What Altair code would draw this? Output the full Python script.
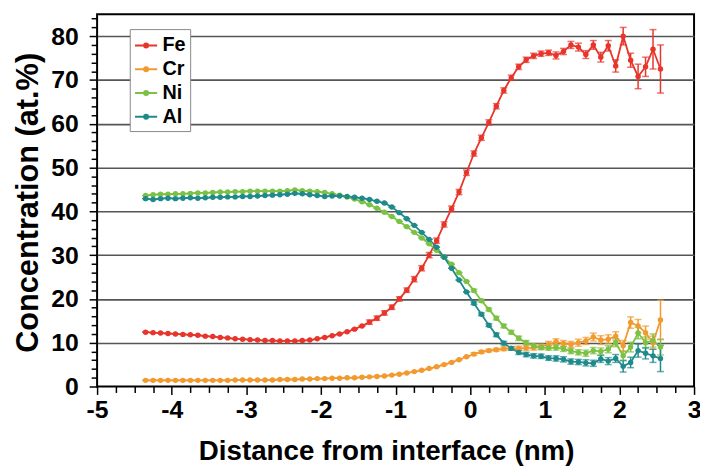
import altair as alt
import pandas as pd

# ---- data ----
series = ["Fe", "Cr", "Ni", "Al"]
colors = ["#e8352b", "#f29a2e", "#7bc143", "#1e8a8c"]

x_nm = [-4.35, -4.25, -4.15, -4.05, -3.95, -3.85, -3.75, -3.65, -3.55, -3.45,
        -3.35, -3.25, -3.15, -3.05, -2.95, -2.85, -2.75, -2.65, -2.55, -2.45,
        -2.35, -2.25, -2.15, -2.05, -1.95, -1.85, -1.75, -1.65, -1.55, -1.45,
        -1.35, -1.25, -1.15, -1.05, -0.95, -0.85, -0.75, -0.65, -0.55, -0.45,
        -0.35, -0.25, -0.15, -0.05, 0.05, 0.15, 0.25, 0.35, 0.45, 0.55,
        0.65, 0.75, 0.85, 0.95, 1.05, 1.15, 1.25, 1.35, 1.45, 1.55,
        1.65, 1.75, 1.85, 1.95, 2.05, 2.15, 2.25, 2.35, 2.45, 2.55]

fe = [12.4, 12.3, 12.2, 12.1, 12.0, 11.9, 11.8, 11.7, 11.5, 11.4,
      11.2, 11.1, 10.9, 10.8, 10.7, 10.6, 10.5, 10.5, 10.4, 10.4,
      10.4, 10.5, 10.6, 10.9, 11.2, 11.6, 12.0, 12.5, 13.1, 13.8,
      14.7, 15.6, 16.8, 18.1, 20.0, 22.0, 24.5, 27.0, 30.0, 33.3,
      37.0, 40.6, 44.4, 48.8, 53.2, 56.8, 60.3, 64.0, 67.6, 70.5,
      73.0, 74.6, 75.5, 76.0, 76.2, 75.6, 76.5, 78.0, 77.5, 75.8,
      78.0, 75.2, 77.8, 73.2, 80.0, 74.5, 70.8, 73.0, 77.0, 72.5]
fe_err = [0, 0, 0, 0, 0, 0, 0, 0, 0, 0,
          0, 0, 0, 0, 0, 0, 0, 0, 0, 0,
          0, 0, 0, 0, 0, 0, 0, 0, 0, 0,
          0.5, 0.5, 0.5, 0.5, 0.5, 0.5, 0.6, 0.6, 0.6, 0.6,
          0.6, 0.6, 0.6, 0.6, 0.6, 0.6, 0.6, 0.6, 0.6, 0.6,
          0.6, 0.6, 0.6, 0.6, 0.6, 0.8, 0.7, 0.8, 0.9, 0.9,
          1.0, 1.1, 1.2, 1.4, 2.0, 1.6, 2.8, 2.2, 4.5, 5.5]

cr = [1.4, 1.4, 1.4, 1.4, 1.4, 1.4, 1.4, 1.4, 1.4, 1.4,
      1.4, 1.4, 1.5, 1.5, 1.5, 1.5, 1.5, 1.5, 1.6, 1.6,
      1.6, 1.7, 1.7, 1.8, 1.8, 1.9, 1.9, 2.0, 2.0, 2.1,
      2.2, 2.3, 2.4, 2.6, 2.8, 3.1, 3.4, 3.7, 4.1, 4.5,
      5.0, 5.5, 6.1, 6.8, 7.4, 7.9, 8.2, 8.4, 8.6, 8.7,
      8.7, 8.8, 8.9, 9.1, 9.6, 10.2, 9.8, 9.6, 10.0, 10.4,
      11.3, 10.6, 10.8, 11.5, 9.3, 14.6, 13.8, 12.3, 10.0, 15.2]
cr_err = [0, 0, 0, 0, 0, 0, 0, 0, 0, 0,
          0, 0, 0, 0, 0, 0, 0, 0, 0, 0,
          0, 0, 0, 0, 0, 0, 0, 0, 0, 0,
          0, 0, 0, 0, 0, 0, 0, 0, 0, 0,
          0, 0, 0, 0, 0.3, 0.3, 0.3, 0.3, 0.4, 0.4,
          0.5, 0.5, 0.6, 0.6, 0.7, 0.7, 0.7, 0.7, 0.8, 0.8,
          0.9, 1.0, 1.0, 1.0, 1.2, 1.3, 1.5, 1.5, 1.5, 4.5]

ni = [43.6, 43.8, 43.9, 43.9, 44.0, 44.0, 44.1, 44.2, 44.2, 44.3,
      44.4, 44.4, 44.5, 44.5, 44.6, 44.6, 44.6, 44.6, 44.6, 44.7,
      44.9, 44.7, 44.6, 44.5, 44.3, 44.0, 43.7, 43.3, 42.8, 42.2,
      41.5, 40.7, 39.8, 38.8, 37.7, 36.5, 35.2, 33.9, 32.6, 31.1,
      29.6, 27.9, 26.0, 24.0, 21.9, 19.6, 17.6, 15.6, 13.8, 12.4,
      11.0, 10.0, 9.3, 8.9, 8.8, 8.9, 8.6, 8.1, 7.8, 7.6,
      8.2, 8.0, 8.5, 10.0, 7.0, 9.0, 12.2, 10.0, 10.5, 9.0]
ni_err = [0, 0, 0, 0, 0, 0, 0, 0, 0, 0,
          0, 0, 0, 0, 0, 0, 0, 0, 0, 0,
          0, 0, 0, 0, 0, 0, 0, 0, 0, 0,
          0, 0, 0, 0, 0, 0, 0, 0, 0, 0,
          0, 0, 0, 0, 0.3, 0.3, 0.3, 0.4, 0.4, 0.4,
          0.5, 0.5, 0.5, 0.5, 0.5, 0.6, 0.6, 0.6, 0.6, 0.7,
          0.7, 0.8, 0.8, 0.9, 1.0, 1.1, 1.3, 1.3, 1.5, 1.8]

al = [42.9, 42.7, 42.9, 43.0, 42.9, 43.0, 43.1, 43.0, 43.1, 43.2,
      43.2, 43.3, 43.3, 43.4, 43.4, 43.5, 43.6, 43.7, 43.8, 43.9,
      44.1, 44.0, 43.8, 43.6, 43.4, 43.5, 43.5, 43.4, 43.2, 43.0,
      42.7, 42.3, 41.9, 41.0, 39.7, 38.3, 36.8, 35.2, 33.6, 31.8,
      29.5, 27.0, 24.3, 21.6, 19.0, 16.5, 14.0, 11.8, 9.9, 8.7,
      7.8, 7.3, 7.0, 6.9, 6.5, 6.4, 6.2, 5.7, 5.6, 5.4,
      5.3, 6.3, 5.8, 6.4, 4.6, 5.5, 8.2, 7.6, 7.0, 6.4]
al_err = [0, 0, 0, 0, 0, 0, 0, 0, 0, 0,
          0, 0, 0, 0, 0, 0, 0, 0, 0, 0,
          0, 0, 0, 0, 0, 0, 0, 0, 0, 0,
          0, 0, 0, 0, 0, 0, 0, 0, 0, 0,
          0, 0, 0, 0, 0.3, 0.3, 0.3, 0.4, 0.4, 0.4,
          0.5, 0.5, 0.5, 0.5, 0.5, 0.6, 0.6, 0.6, 0.6, 0.7,
          0.7, 0.8, 0.8, 0.9, 1.3, 1.2, 1.5, 1.3, 1.5, 3.0]

x_ticks = [-5 + 0.25 * k for k in range(33)]
y_ticks = [2 * k for k in range(43)]

rows = []
for name, vals, errs in [("Fe", fe, fe_err), ("Cr", cr, cr_err),
                         ("Ni", ni, ni_err), ("Al", al, al_err)]:
    for xv, v, e in zip(x_nm, vals, errs):
        rows.append({"s": name, "x": xv, "v": v, "lo": v - e, "hi": v + e})
df = pd.DataFrame(rows)

FONT = "Liberation Sans"

x_axis = alt.Axis(values=x_ticks, title="Distance from interface (nm)",
                  labelExpr="datum.value % 1 === 0 ? (datum.value < 0 ? '-' + abs(datum.value) : '' + datum.value) : ''",
                  labelFlush=False, labelOverlap=False,
                  grid=False, domain=False,
                  tickColor="black", tickWidth=1.5,
                  tickSize={"condition": {"test": "datum.value % 1 === 0", "value": 8}, "value": 6},
                  labelPadding=3, labelFontSize=25,
                  titleX=292, titleY=74, titleAlign="center",
                  titleBaseline="alphabetic", titleFontSize=28)
y_axis = alt.Axis(values=y_ticks, title="Concentration (at.%)",
                  labelExpr="datum.value % 10 === 0 ? datum.label : ''",
                  labelFlush=False, labelOverlap=False,
                  grid=True, gridColor="#555555", gridWidth=1.6,
                  gridOpacity={"condition": {"test": "datum.value % 10 === 0 && datum.value > 0", "value": 1}, "value": 0},
                  domain=False, tickColor="black", tickWidth=1.5,
                  tickSize={"condition": {"test": "datum.value % 10 === 0", "value": 8}, "value": 6},
                  labelPadding=11, labelFontSize=25,
                  titleX=-60, titleY=190, titleAlign="center",
                  titleBaseline="alphabetic", titleAngle=270, titleFontSize=31)

x_scale = alt.Scale(domain=[-5, 3], nice=False, zero=False)
y_scale = alt.Scale(domain=[0, 85], nice=False)

legend = alt.Legend(title=None, orient="none", legendX=33, legendY=15,
                    fillColor="white", strokeColor="#888888",
                    padding=4, rowPadding=1,
                    symbolType="M-1,0H1M-0.18,0a0.18,0.18 0 1,0 0.36,0a0.18,0.18 0 1,0 -0.36,0",
                    symbolSize=500, symbolStrokeWidth=2, symbolOpacity=1,
                    labelFont=FONT, labelFontSize=20,
                    labelFontWeight="bold", labelColor="black",
                    labelOffset=4)
color_enc = alt.Color("s:N", scale=alt.Scale(domain=series, range=colors),
                      sort=series, legend=legend)

base = alt.Chart(df)

lines = base.mark_line(strokeWidth=1.8).encode(
    x=alt.X("x:Q", scale=x_scale, axis=x_axis),
    y=alt.Y("v:Q", scale=y_scale, axis=y_axis),
    color=color_enc)

errs = base.mark_errorbar(ticks={"size": 7}, thickness=1.5).encode(
    x=alt.X("x:Q", scale=x_scale, axis=x_axis),
    y=alt.Y("lo:Q", scale=y_scale, axis=y_axis),
    y2="hi:Q",
    color=color_enc)

pts = base.mark_circle(size=30, opacity=1).encode(
    x=alt.X("x:Q", scale=x_scale, axis=x_axis),
    y=alt.Y("v:Q", scale=y_scale, axis=y_axis),
    color=color_enc)

chart = alt.layer(lines, errs, pts).properties(
    width=603, height=376,
    padding={"left": 90, "top": 4, "right": 6, "bottom": 80},
    autosize=alt.AutoSizeParams(type="none"),
    background="white",
).configure_view(
    stroke="black", strokeWidth=2
).configure_axis(
    labelFont=FONT, titleFont=FONT, labelFontWeight="bold", titleFontWeight="bold",
    labelColor="black", titleColor="black"
)

chart.save("out.html", embed_options={"renderer": "svg", "actions": False})
